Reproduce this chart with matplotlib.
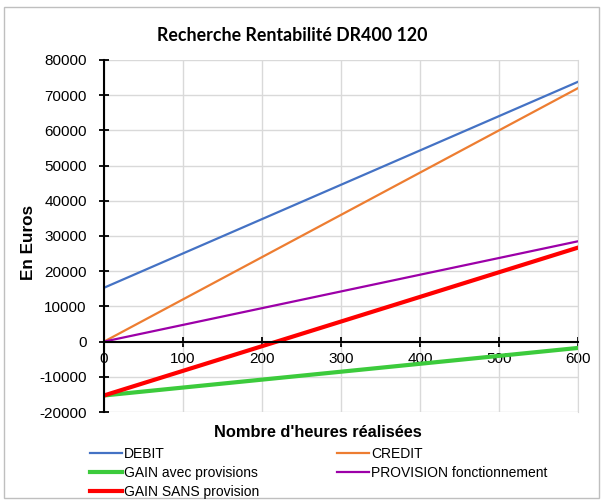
import matplotlib
matplotlib.use('Agg')
import matplotlib.pyplot as plt
from matplotlib.patches import Rectangle

# heures realisees
heures = [0, 100, 200, 300, 400, 500, 600]

# valeurs (euros)
debit = [15300, 25050, 34800, 44550, 54300, 64050, 73800]
credit = [0, 12000, 24000, 36000, 48000, 60000, 72000]
gain_avec = [-15300, -13050, -10800, -8550, -6300, -4050, -1800]
provision = [0, 4750, 9500, 14250, 19000, 23750, 28500]
gain_sans = [-15300, -8300, -1300, 5700, 12700, 19700, 26700]

plt.rcParams['font.family'] = ['Liberation Sans', 'DejaVu Sans']
plt.rcParams['axes.unicode_minus'] = False

fig = plt.figure(figsize=(6.03, 5.04), dpi=100)
ax = fig.add_axes([0.1725, 0.1825, 0.786, 0.6985])

l_debit, = ax.plot(heures, debit, color='#4472C4', lw=1.6, label='DEBIT')
l_credit, = ax.plot(heures, credit, color='#ED7D31', lw=1.6, label='CREDIT')
l_prov, = ax.plot(heures, provision, color='#9C00A8', lw=1.6, label='PROVISION fonctionnement')
l_avec, = ax.plot(heures, gain_avec, color='#3CCB3C', lw=3, label='GAIN avec provisions')
l_sans, = ax.plot(heures, gain_sans, color='#FF0000', lw=3, label='GAIN SANS provision')

ax.set_xlim(0, 600)
ax.set_ylim(-20000, 80000)
ax.set_xticks(range(0, 601, 100))
ax.set_yticks(range(-20000, 80001, 10000))
ax.grid(True, color='#D9D9D9', lw=1)
ax.set_axisbelow(True)

ax.spines['bottom'].set_position(('data', 0))
ax.spines['bottom'].set_linewidth(1.5)
ax.spines['left'].set_linewidth(1.5)
ax.spines['top'].set_visible(False)
ax.spines['right'].set_color('#D9D9D9')
ax.tick_params(axis='both', direction='inout', length=7, width=1.3, labelsize=11)
ax.tick_params(axis='y', pad=9)
ax.tick_params(axis='x', pad=4)

fig.text(0.485, 0.93, 'Recherche Rentabilité DR400 120', family=['Lato', 'DejaVu Sans'],
         fontsize=12.8, fontweight='bold', ha='center', va='center')
fig.text(0.048, 0.518, 'En Euros', rotation=90, fontsize=12.3, fontweight='bold',
         ha='center', va='center')
fig.text(0.527, 0.141, "Nombre d'heures réalisées", fontsize=11.8, fontweight='bold',
         ha='center', va='center')

fig.legend(handles=[l_debit, l_avec, l_sans, l_credit, l_prov], ncol=2,
           loc='upper left', bbox_to_anchor=(0.149, 0.114), frameon=False,
           fontsize=10, handlelength=2.3, handletextpad=0.15, labelspacing=0.38,
           columnspacing=5.6, borderaxespad=0, borderpad=0)

fig.patches.append(Rectangle((0.007, 0.012), 0.986, 0.975, transform=fig.transFigure,
                             fill=False, edgecolor='#BFBFBF', lw=1))

fig.savefig('out.png', dpi=100)
